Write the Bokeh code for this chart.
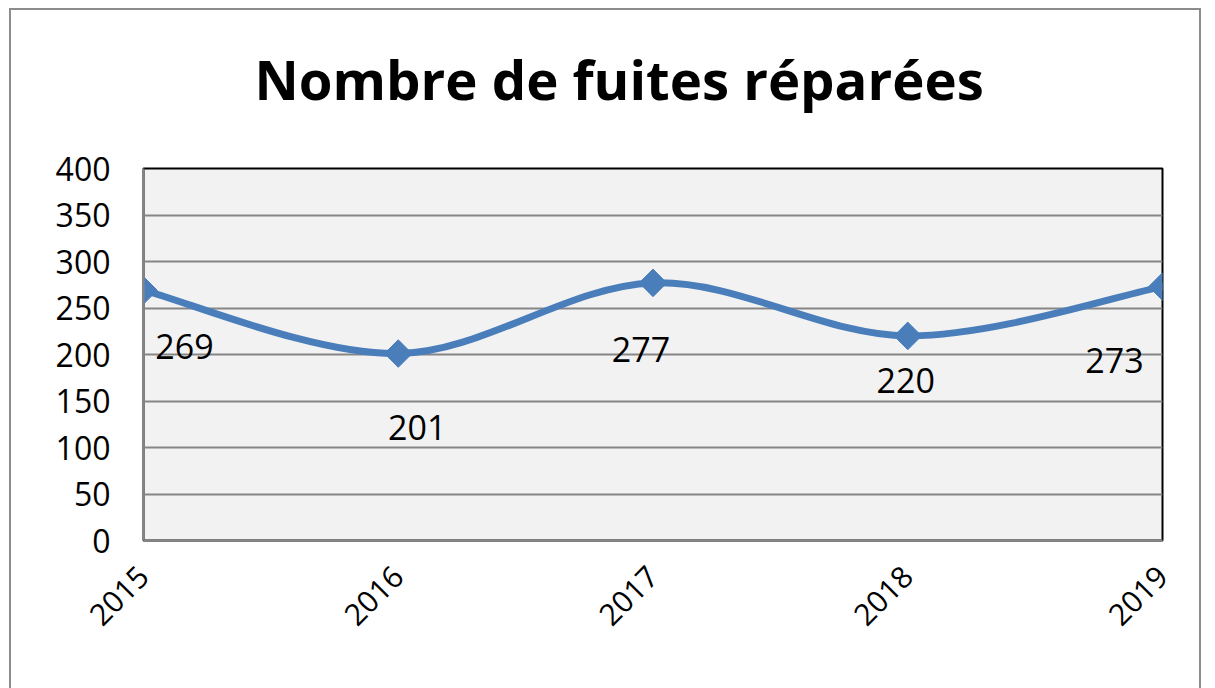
import math
from bokeh.plotting import figure
from bokeh.models import Range1d, FixedTicker, Title
from bokeh.core.properties import value
from bokeh.embed import file_html
from bokeh.resources import INLINE

# ---- data ----
years = [2015, 2016, 2017, 2018, 2019]
year_labels = ["2015", "2016", "2017", "2018", "2019"]
counts = [269, 201, 277, 220, 273]
y_ticks = [0, 50, 100, 150, 200, 250, 300, 350, 400]
title_text = "Nombre de fuites réparées"

# data label offsets (screen px, as placed in the reference)
label_dx = [41, 19, -12, -2, -48]
label_dy = [56, 74, 67, 45, 74]

LINE = "#4a7ebb"
GRID = "#868686"

p = figure(width=1192, height=700, output_backend="svg", toolbar_location=None,
           title=None,
           x_range=Range1d(2015, 2019), y_range=Range1d(0, 400),
           min_border_left=132, min_border_right=41,
           min_border_top=158, min_border_bottom=170)
p.margin = (8, 0, 0, 9)
p.styles = {"border": "2px solid #8c8c8c"}

p.background_fill_color = "#f2f2f2"
p.border_fill_color = "white"
p.outline_line_color = "black"
p.outline_line_width = 2

# spacer between plot area and title, then the title itself
p.add_layout(Title(text=" ", text_font_size="1px", standoff=50), "above")
p.add_layout(Title(text=title_text, text_font="Open Sans", text_font_style="bold",
                   text_font_size="54.5px", text_color="black",
                   align="left", offset=111, standoff=0,
                   vertical_align="bottom"), "above")

# axes
p.yaxis.ticker = FixedTicker(ticks=y_ticks)
p.xaxis.ticker = FixedTicker(ticks=years)
p.xaxis.major_label_overrides = {y: l for y, l in zip(years, year_labels)}
p.xaxis.major_label_orientation = math.pi / 4
for ax in (p.xaxis, p.yaxis):
    ax.axis_line_color = GRID
    ax.axis_line_width = 2
    ax.major_tick_line_color = None
    ax.minor_tick_line_color = None
    ax.major_tick_out = 0
    ax.major_tick_in = 0
    ax.major_label_text_font = "Open Sans"
    ax.major_label_text_color = "black"
p.yaxis.major_label_text_font_size = "32px"
p.xaxis.major_label_text_font_size = "30px"
p.yaxis.major_label_standoff = 33
p.xaxis.major_label_standoff = 31

p.xgrid.grid_line_color = None
p.ygrid.grid_line_color = GRID
p.ygrid.grid_line_width = 2

# smoothed line (Bezier segments with Catmull-Rom style control points)
n = len(years)
bx0, by0, bx1, by1, cx0, cy0, cx1, cy1 = [], [], [], [], [], [], [], []
for i in range(n - 1):
    pm = max(i - 1, 0)
    pp = min(i + 2, n - 1)
    bx0.append(years[i]); by0.append(counts[i])
    bx1.append(years[i + 1]); by1.append(counts[i + 1])
    cx0.append(years[i] + (years[i + 1] - years[pm]) / 6)
    cy0.append(counts[i] + (counts[i + 1] - counts[pm]) / 6)
    cx1.append(years[i + 1] - (years[pp] - years[i]) / 6)
    cy1.append(counts[i + 1] - (counts[pp] - counts[i]) / 6)
p.bezier(x0=bx0, y0=by0, x1=bx1, y1=by1, cx0=cx0, cy0=cy0, cx1=cx1, cy1=cy1,
         line_color=LINE, line_width=7, line_cap="round")

p.scatter(x=years, y=counts, marker="square", angle=math.pi / 4, size=19.5,
          fill_color=LINE, line_color=LINE)

p.text(x=years, y=counts, text=[str(c) for c in counts],
       x_offset=label_dx, y_offset=label_dy,
       text_font=value("Open Sans"), text_font_size="34px", text_color="black",
       text_align="center", text_baseline="middle")

html = file_html(p, INLINE)
html = html.replace("</head>", "<style>html,body{overflow:hidden;}</style></head>", 1)
open("out.html", "w").write(html)
